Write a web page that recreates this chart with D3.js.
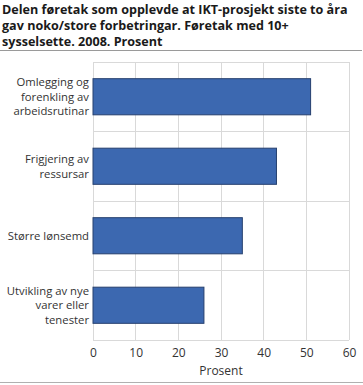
<!DOCTYPE html>
<html><head><meta charset="utf-8">
<script src="https://cdn.jsdelivr.net/npm/d3@7"></script>
<style>body{margin:0;background:#fff;} svg{display:block;}</style>
</head><body>
<script>
const titleLines = ["Delen føretak som opplevde at IKT-prosjekt siste to åra", "gav noko/store forbetringar. Føretak med 10+", "sysselsette. 2008. Prosent"];
const categories = [
  ["Omlegging og", "forenkling av", "arbeidsrutinar"],
  ["Frigjering av", "ressursar"],
  ["Større lønsemd"],
  ["Utvikling av nye", "varer eller", "tenester"]
];
const values = [51, 43, 35, 26];
const xTicks = [0, 10, 20, 30, 40, 50, 60];
const xLabel = "Prosent";

(function () {
const W = 363, H = 385;
const svg = d3.select("body").append("svg").attr("width", W).attr("height", H);
const font = "'Open Sans', 'Noto Sans', sans-serif";

const title = svg.append("g").attr("font-family", font).attr("font-weight", "bold").attr("fill", "#1a1a1a");
const tl = title.selectAll("text").data(titleLines).join("text")
  .attr("x", 2).attr("y", (d, i) => 14 + i * 16).attr("font-size", 13.3).text(d => d);
const w0 = tl.node().getComputedTextLength();
const fs = Math.min(13.3, 13.3 * 346 / w0);
tl.attr("font-size", fs);

svg.append("line").attr("x1", 0).attr("x2", 362).attr("y1", 50.5).attr("y2", 50.5).attr("stroke", "#9a9a9a").attr("stroke-width", 1);
svg.append("line").attr("x1", 0).attr("x2", 363).attr("y1", 382.5).attr("y2", 382.5).attr("stroke", "#b0b0b0").attr("stroke-width", 1);

const mLeft = 93, mRight = 349, mTop = 62, mBottom = 340;
const x = d3.scaleLinear().domain([0, 60]).range([mLeft, mRight]);
const idx = d3.range(categories.length);
const y = d3.scaleBand().domain(idx).range([mTop, mBottom]).paddingInner(0.48).paddingOuter(0.24);

const grid = svg.append("g").attr("stroke", "#d9d9d9").attr("stroke-width", 1).attr("shape-rendering", "crispEdges");
xTicks.forEach(t => grid.append("line").attr("x1", x(t)).attr("x2", x(t)).attr("y1", mTop).attr("y2", mBottom));
const step = (mBottom - mTop) / categories.length;
d3.range(categories.length + 1).forEach(i => grid.append("line").attr("x1", mLeft).attr("x2", mRight).attr("y1", mTop + i * step).attr("y2", mTop + i * step));

svg.append("g").selectAll("rect").data(values).join("rect")
  .attr("x", x(0)).attr("y", (d, i) => y(i))
  .attr("width", d => x(d) - x(0)).attr("height", y.bandwidth())
  .attr("fill", "#3c68b0").attr("stroke", "#26406e").attr("stroke-width", 1);

const xAxis = d3.axisBottom(x).tickValues(xTicks).tickSize(0).tickPadding(6).tickFormat(d3.format("d"));
const gx = svg.append("g").attr("transform", `translate(0,${mBottom})`).call(xAxis);
gx.select(".domain").remove();
gx.selectAll("text").attr("font-family", font).attr("font-size", 12).attr("fill", "#333").attr("dy", "0.95em");

svg.append("text").attr("x", (mLeft + mRight) / 2).attr("y", 375).attr("text-anchor", "middle")
  .attr("font-family", font).attr("font-size", 12).attr("fill", "#333").text(xLabel);

const lh = 14.5;
categories.forEach((lines, i) => {
  const cy = y(i) + y.bandwidth() / 2;
  lines.forEach((ln, j) => {
    svg.append("text").attr("text-anchor", "end").attr("font-family", font).attr("font-size", 11.3).attr("fill", "#333")
      .attr("x", 89).attr("y", cy + (j - (lines.length - 1) / 2) * lh + 4).text(ln);
  });
});
})();
</script>
</body></html>
